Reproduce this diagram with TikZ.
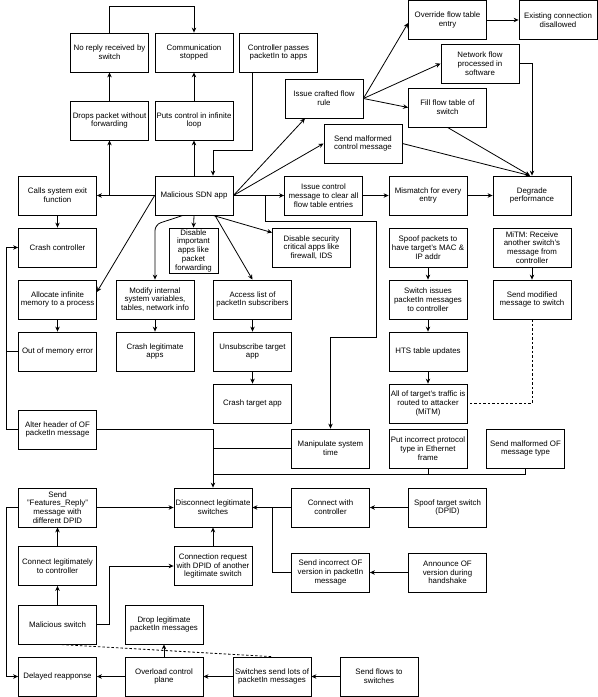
\documentclass[tikz,border=0pt]{standalone}
\usepackage{fontspec}
\setmainfont{Liberation Sans}
\usetikzlibrary{arrows.meta,calc}
\begin{document}
\begin{tikzpicture}[x=1bp,y=-1bp,
  bx/.style={draw, line width=0.8bp, minimum width=78bp, minimum height=39bp, inner sep=1bp, align=center, font=\fontsize{7.9}{8.8}\selectfont},
  arr/.style={line width=0.8bp, -{Stealth[length=5bp,width=4.5bp]}},
  ln/.style={line width=0.8bp},
  dsh/.style={line width=0.8bp, dash pattern=on 2.5bp off 2bp}]
\useasboundingbox (0,0) rectangle (598,697);
% nodes
\node[bx] (noreply) at (109.5,52.5) {No reply received by\\switch};
\node[bx] (commstop) at (194,52.5) {Communication\\stopped};
\node[bx] (ctrlpass) at (278.5,52.5) {Controller passes\\packetIn to apps};
\node[bx] (drops) at (109.5,120.5) {Drops packet without\\forwarding};
\node[bx] (puts) at (194,120.5) {Puts control in infinite\\loop};
\node[bx] (callsexit) at (57.5,195.5) {Calls system exit\\function};
\node[bx] (malapp) at (194,195.5) {Malicious SDN app};
\node[bx] (override) at (447.5,20) {Override flow table\\entry};
\node[bx] (existing) at (558,20) {Existing connection\\disallowed};
\node[bx] (netflow) at (480,63.5) {Network flow\\processed in\\software};
\node[bx] (crafted) at (324,98.5) {Issue crafted flow\\rule};
\node[bx] (fill) at (447.5,107.5) {Fill flow table of\\switch};
\node[bx] (sendmalctrl) at (363,143.5) {Send malformed\\control message};
\node[bx] (issuectrl) at (323.5,195.5) {Issue control\\message to clear all\\flow table entries};
\node[bx] (mismatch) at (428,195.5) {Mismatch for every\\entry};
\node[bx] (degrade) at (532,195.5) {Degrade\\performance};
\node[bx] (crashctrl) at (57.5,247.5) {Crash controller};
\node[bx, minimum width=49bp, minimum height=45bp] (disimp) at (193.5,250.5) {Disable\\important\\apps like\\packet\\forwarding};
\node[bx] (dissec) at (311.5,247.5) {Disable security\\critical apps like\\firewall, IDS};
\node[bx] (spoofpk) at (428,247.5) {Spoof packets to\\have target's MAC \&\\IP addr};
\node[bx] (mitm) at (532,247.5) {MiTM: Receive\\another switch's\\message from\\controller};
\node[bx] (allocate) at (57.5,299.5) {Allocate infinite\\memory to a process};
\node[bx] (modify) at (155,299.5) {Modify internal\\system variables,\\tables, network info};
\node[bx] (access) at (252.5,299.5) {Access list of\\packetIn subscribers};
\node[bx] (swissues) at (428,299.5) {Switch issues\\packetIn messages\\to controller};
\node[bx] (sendmod) at (532,299.5) {Send modified\\message to switch};
\node[bx] (oom) at (57.5,351.5) {Out of memory error};
\node[bx] (crashlegit) at (155,351.5) {Crash legitimate\\apps};
\node[bx] (unsub) at (252.5,351.5) {Unsubscribe target\\app};
\node[bx] (hts) at (428,351.5) {HTS table updates};
\node[bx] (crashtarget) at (252.5,403.5) {Crash target app};
\node[bx] (alltraffic) at (428,403.5) {All of target's traffic is\\routed to attacker\\(MiTM)};
\node[bx] (alter) at (57.5,429.5) {Alter header of OF\\packetIn message};
\node[bx] (manip) at (330.5,448.5) {Manipulate system\\time};
\node[bx] (putinc) at (428,448.5) {Put incorrect protocol\\type in Ethernet\\frame};
\node[bx] (sendmalof) at (525.5,448.5) {Send malformed OF\\message type};
\node[bx] (features) at (57.5,507.5) {Send\\"Features\_Reply"\\message with\\different DPID};
\node[bx] (disconnect) at (213,507.5) {Disconnect legitimate\\switches};
\node[bx] (connectctrl) at (330.5,507.5) {Connect with\\controller};
\node[bx] (spooftarget) at (447.5,507.5) {Spoof target switch\\(DPID)};
\node[bx] (connlegit) at (57.5,566) {Connect legitimately\\to controller};
\node[bx] (connreq) at (213,566) {Connection request\\with DPID of another\\legitimate switch};
\node[bx] (sendincorrect) at (330.5,572.5) {Send incorrect OF\\version in packetIn\\message};
\node[bx] (announce) at (447.5,572.5) {Announce OF\\version during\\handshake};
\node[bx] (malswitch) at (57.5,624.5) {Malicious switch};
\node[bx] (droplegit) at (164,624.5) {Drop legitimate\\packetIn messages};
\node[bx] (delayed) at (57.5,676.5) {Delayed reapponse};
\node[bx] (overload) at (164,676.5) {Overload control\\plane};
\node[bx] (swsend) at (272,676.5) {Switches send lots of\\packetIn messages};
\node[bx] (sendflows) at (379,676.5) {Send flows to\\switches};
% edges top-left
\draw[arr] (noreply.north) -- ++(0,-26) -| (commstop.north);
\draw[arr] (drops.north) -- (noreply.south);
\draw[arr] (puts.north) -- (commstop.south);
\draw[arr] (malapp.north) -- (puts.south);
\draw[arr] ([xshift=-26.5bp]ctrlpass.south) -- ++(0,78) -| ([xshift=19bp]malapp.north);
\draw[arr] (malapp.west) -- (callsexit.east);
\draw[arr] (drops.south |- malapp.west) -- (drops.south);
\draw[arr] (callsexit.south) -- (crashctrl.north);
% malicious app outgoing
\draw[arr] (malapp.east) -- ([xshift=-19bp]crafted.south);
\draw[arr] (malapp.east) -- (sendmalctrl.west);
\draw[arr] (malapp.east) -- (issuectrl.west);
\draw[arr] ([xshift=32bp]malapp.east) -- ++(0,26) -- ++(111,0) -- ++(0,116) -| (manip.north);
\draw[arr] (malapp.south) -- (disimp.north);
\draw[arr] ([xshift=19bp]malapp.south) -- ([yshift=-5bp]dissec.north west);
\draw[arr] ([xshift=21bp]malapp.south) -- (access.north);
\draw[arr, rounded corners=6bp] ([xshift=-11bp]malapp.south) -- ([yshift=55bp]modify.north) -- (modify.north);
\draw[arr] (malapp.west) -- ([yshift=7.5bp]allocate.east);
% crafted flow rule
\draw[arr] (crafted.east) -- ([yshift=-3bp]override.west);
\draw[arr] (override.east) -- (existing.west);
\draw[arr] (crafted.east) -- (netflow.west);
\draw[arr] (crafted.east) -- (fill.west);
\draw[arr] (fill.south) -- ([xshift=-2bp]degrade.north);
\draw[arr] (netflow.east) -| (degrade.north);
\draw[arr] (sendmalctrl.east) -- ([xshift=-2bp]degrade.north);
\draw[arr] (issuectrl.east) -- (mismatch.west);
\draw[arr] (mismatch.east) -- (degrade.west);
% left column
\draw[arr] (allocate.south) -- (oom.north);
\draw[ln] (oom.west) -- ++(-12,0);
\draw[arr] (alter.west) -- ++(-12,0) |- (crashctrl.west);
\draw[arr] (modify.south) -- (crashlegit.north);
\draw[arr] (access.south) -- (unsub.north);
\draw[arr] (unsub.south) -- (crashtarget.north);
% right column
\draw[arr] (spoofpk.south) -- (swissues.north);
\draw[arr] (swissues.south) -- (hts.north);
\draw[arr] (hts.south) -- (alltraffic.north);
\draw[arr] (mitm.south) -- (sendmod.north);
\draw[dsh] (sendmod.south) |- (alltraffic.east);
% into disconnect
\draw[arr] (alter.east) -| (disconnect.north);
\draw[ln] (manip.west) -- (disconnect.north |- manip.west);
\draw[ln] (sendmalof.south) -- ++(0,5.5) coordinate (j) -- (disconnect.north |- j);
\draw[ln] (putinc.south) -- (putinc.south |- j);
\draw[arr] (features.east) -- (disconnect.west);
\draw[arr] (features.west) -- ++(-12,0) |- (delayed.west);
\draw[arr] (connlegit.north) -- (features.south);
\draw[arr] (malswitch.north) -- (connlegit.south);
\draw[arr] (malswitch.east) -- ++(12,0) |- (connreq.west);
\draw[arr] (connreq.north) -- (disconnect.south);
\draw[arr] (connectctrl.west) -- (disconnect.east);
\draw[arr] (spooftarget.west) -- (connectctrl.east);
\draw[ln] (sendincorrect.west) -- ++(-19,0) coordinate (k) -- (k |- disconnect.east);
\draw[arr] (announce.west) -- (sendincorrect.east);
% bottom row
\draw[arr] (sendflows.west) -- (swsend.east);
\draw[arr] (swsend.west) -- (overload.east);
\draw[arr] (overload.west) -- (delayed.east);
\draw[arr] (overload.north) -- (droplegit.south);
\draw[dsh] (malswitch.south) -- (swsend.north);
\end{tikzpicture}
\end{document}
